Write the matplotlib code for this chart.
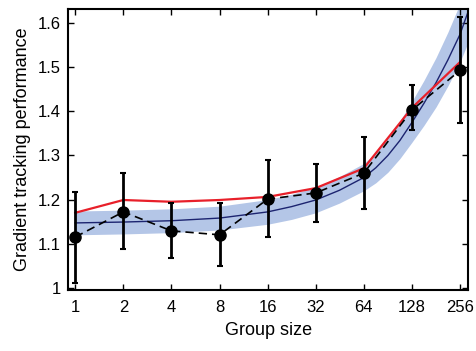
import numpy as np
import matplotlib
matplotlib.use("Agg")
import matplotlib.pyplot as plt

plt.rcParams['font.family'] = ['Liberation Sans', 'DejaVu Sans']

# group sizes and measured performance
group_size = [1, 2, 4, 8, 16, 32, 64, 128, 256]
perf_mean = [1.115, 1.172, 1.129, 1.120, 1.201, 1.215, 1.260, 1.403, 1.493]
perf_lo = [1.011, 1.088, 1.068, 1.050, 1.115, 1.149, 1.179, 1.357, 1.373]
perf_hi = [1.217, 1.260, 1.192, 1.192, 1.290, 1.280, 1.342, 1.459, 1.615]

# red model line
model_red = [1.170, 1.199, 1.195, 1.199, 1.206, 1.226, 1.271, 1.408, 1.512]

# fitted curve and its band
fit_n = [1, 2, 4, 8, 16, 22.6, 32, 45, 64, 76, 90.5, 107.6, 128, 152, 181, 215, 256, 290]
fit_mid = [1.147, 1.149, 1.152, 1.158, 1.172, 1.184, 1.199, 1.221, 1.250, 1.272,
           1.300, 1.334, 1.375, 1.418, 1.465, 1.517, 1.575, 1.630]
fit_lo = [1.120, 1.122, 1.125, 1.131, 1.144, 1.155, 1.170, 1.192, 1.220, 1.238,
          1.262, 1.293, 1.330, 1.368, 1.410, 1.458, 1.512, 1.560]
fit_hi = [1.174, 1.176, 1.179, 1.185, 1.200, 1.212, 1.228, 1.252, 1.282, 1.306,
          1.338, 1.378, 1.423, 1.470, 1.522, 1.580, 1.645, 1.710]

fig = plt.figure(figsize=(4.77, 3.51), dpi=100)
ax = fig.add_axes([0.1426, 0.174, 0.839, 0.80])
ax.set_xscale('log', base=2)

ax.fill_between(fit_n, fit_lo, fit_hi, color='#b4c6e7', lw=0, zorder=1)
ax.plot(fit_n, fit_mid, color='#1c2470', lw=1.0, zorder=2)
ax.plot(group_size, model_red, color='#e8202a', lw=1.6, zorder=3)

yerr = [np.array(perf_mean) - np.array(perf_lo), np.array(perf_hi) - np.array(perf_mean)]
ax.errorbar(group_size, perf_mean, yerr=yerr, fmt='none', ecolor='black',
            elinewidth=2, capsize=2.5, capthick=1.5, zorder=4)
ax.plot(group_size, perf_mean, color='black', ls=(0, (5, 3)), lw=1.2,
        marker='o', ms=8, zorder=5)

ax.set_xlim(2 ** -0.15, 2 ** 8.17)
ax.set_ylim(0.995, 1.632)
ax.set_xticks(group_size)
ax.set_xticklabels([str(g) for g in group_size])
ax.set_yticks([1, 1.1, 1.2, 1.3, 1.4, 1.5, 1.6])
ax.set_yticklabels(['1', '1.1', '1.2', '1.3', '1.4', '1.5', '1.6'])
ax.minorticks_off()
ax.tick_params(direction='in', length=4, width=1, top=True, right=True,
               labelsize=12, colors='black', pad=5)
ax.tick_params(axis='x', pad=7)
for s in ax.spines.values():
    s.set_linewidth(1.5)

ax.set_xlabel('Group size', fontsize=13, labelpad=5)
ax.set_ylabel('Gradient tracking performance', fontsize=13, labelpad=5)

fig.savefig('out.png', dpi=100)
